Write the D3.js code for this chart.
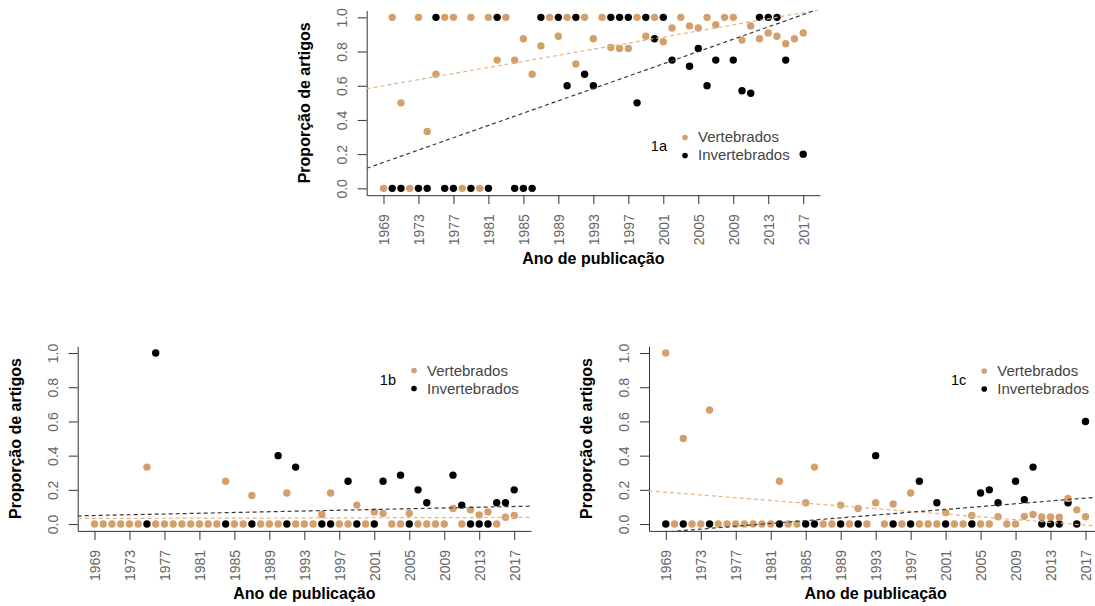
<!DOCTYPE html>
<html>
<head>
<meta charset="utf-8">
<script src="https://cdn.jsdelivr.net/npm/d3@7"></script>
<style>
  body { margin: 0; background: #fff; }
  svg text { font-family: "Liberation Sans", Arial, Helvetica, sans-serif; }
</style>
</head>
<body>
<svg id="fig" width="1095" height="606"></svg>
<script>
// Publication years (one value per year for each series)
const years = [1969,1970,1971,1972,1973,1974,1975,1976,1977,1978,
               1979,1980,1981,1982,1983,1984,1985,1986,1987,1988,
               1989,1990,1991,1992,1993,1994,1995,1996,1997,1998,
               1999,2000,2001,2002,2003,2004,2005,2006,2007,2008,
               2009,2010,2011,2012,2013,2014,2015,2016,2017];
const xTickYears = [1969,1973,1977,1981,1985,1989,1993,1997,2001,2005,2009,2013,2017];
const yTickValues = [0, 0.2, 0.4, 0.6, 0.8, 1.0];
const seriesNames = ["Vertebrados", "Invertebrados"];

// Panel 1a – proportion of articles per year (null = no point shown)
const vert1a = [0,1,0.5,0,1,0.333,0.667,1,1,0,
                1,0,1,0.75,1,0.75,0.875,0.667,0.833,1,
                0.889,1,0.727,1,0.875,1,0.824,0.818,0.818,1,
                0.889,1,0.857,0.938,1,0.95,0.938,1,0.957,1,
                1,0.867,0.95,0.875,0.909,0.889,0.846,0.875,0.909];
const invert1a = [null,0,0,null,0,0,1,0,0,null,
                  0,null,0,1,null,0,0,0,1,null,
                  1,0.6,1,0.667,0.6,null,1,1,1,0.5,
                  1,0.875,1,0.75,null,0.714,0.818,0.6,0.75,null,
                  0.75,0.571,0.556,1,1,1,0.75,null,0.2];

// Panel 1b
const vert1b = [0,0,0,0,0,0,0.333,0,0,0,
                0,0,0,0,0,0.25,0,0,0.167,0,
                0,0,0.182,0,0,0,0.056,0.182,0,0,
                0.111,0,0.071,0.0625,0,0,0.0625,0,0,0,
                0,0.091,0,0.083,0.053,0.071,0,0.04,0.05];
const invert1b = [null,null,null,null,null,null,0,1,null,null,
                  null,null,null,null,null,0,null,null,0,null,
                  null,0.4,0,0.333,null,null,0,0,null,0.25,
                  0,null,0,0.25,null,0.286,0,0.2,0.125,null,
                  null,0.286,0.111,0,0,0,0.125,0.125,0.2];

// Panel 1c
const vert1c = [1,0,0.5,0,0,0.667,0,0,0,0,
                0,0,0,0.25,0,0,0.125,0.333,0,0,
                0.111,0,0.091,0,0.125,0,0.118,0,0.182,0,
                0,0,0.067,0,0,0.05,0,0,0.043,0,
                0,0.045,0.056,0.042,0.042,0.04,0.15,0.083,0.043];
const invert1c = [0,null,0,null,null,0,null,null,null,null,
                  null,null,null,0,null,null,0,0,null,null,
                  0,null,0,null,0.4,null,0,null,0,0.25,
                  null,0.125,0,null,null,0,0.182,0.2,0.125,null,
                  0.25,0.143,0.333,0,0,0,0.125,0,0.6];

// Linear trends: [value at 1969, change per year]
const trendVert1a = [0.600, 0.0089];
const trendInvert1a = [0.152, 0.0180];
const trendVert1b = [0.033, 0.00012];
const trendInvert1b = [0.050, 0.0011];
const trendVert1c = [0.186, -0.0040];
const trendInvert1c = [-0.046, 0.00412];

const colors = { vert: "#D39F6B", invert: "#000000", vertLine: "#E6B386", invertLine: "#3a3a3a" };

const W = 453.3, H = 184.7;
const xDomain = [1967.08, 2018.92];
const yDomain = [-0.04, 1.04];

const panels = [
  { tag: "1a", left: 366.7, top: 10.5, vert: vert1a, invert: invert1a,
    trendV: trendVert1a, trendI: trendInvert1a, legendAt: [2003.48, 0.245] },
  { tag: "1b", left: 77.7, top: 346.2, vert: vert1b, invert: invert1b,
    trendV: trendVert1b, trendI: trendInvert1b, legendAt: [2005.54, 0.845] },
  { tag: "1c", left: 649, top: 346.2, vert: vert1c, invert: invert1c,
    trendV: trendVert1c, trendI: trendInvert1c, legendAt: [2005.42, 0.842] }
];

const svg = d3.select("#fig");

panels.forEach((p) => {
  const x = d3.scaleLinear().domain(xDomain).range([0, W]);
  const y = d3.scaleLinear().domain(yDomain).range([H, 0]);
  const g = svg.append("g").attr("transform", `translate(${p.left},${p.top})`);

  const clipId = "clip-" + p.tag;
  g.append("clipPath").attr("id", clipId)
    .append("rect").attr("x", 0).attr("y", 0).attr("width", W).attr("height", H);

  // x axis (bottom side of the box)
  const xAxis = g.append("g").attr("transform", `translate(0,${H})`)
    .call(d3.axisBottom(x).tickValues(xTickYears).tickFormat(d3.format("d"))
      .tickSize(9).tickSizeOuter(0));
  xAxis.selectAll("text")
    .attr("x", -19).attr("y", 5).attr("dy", null)
    .attr("transform", "rotate(-90)")
    .attr("text-anchor", "end");

  // y axis (left side of the box)
  const yAxis = g.append("g")
    .call(d3.axisLeft(y).tickValues(yTickValues).tickFormat(d3.format(".1f"))
      .tickSize(9).tickSizeOuter(0));
  yAxis.selectAll("text")
    .attr("x", 0).attr("y", 0).attr("dy", null)
    .attr("transform", "translate(-20,0) rotate(-90)")
    .attr("text-anchor", "middle");

  [xAxis, yAxis].forEach(a => {
    a.select(".domain").attr("stroke", "#333").attr("stroke-width", 1);
    a.selectAll(".tick line").attr("stroke", "#333");
    a.selectAll(".tick text").attr("fill", "#666").attr("font-size", 14);
  });

  // axis titles
  g.append("text")
    .attr("transform", `translate(-57,${H / 2}) rotate(-90)`)
    .attr("text-anchor", "middle")
    .attr("font-weight", "bold").attr("font-size", 16).attr("fill", "#000")
    .text("Proporção de artigos");
  g.append("text")
    .attr("x", W / 2).attr("y", H + 68.3)
    .attr("text-anchor", "middle")
    .attr("font-weight", "bold").attr("font-size", 16).attr("fill", "#000")
    .text("Ano de publicação");

  // points: invertebrates first, vertebrates on top
  const plotArea = g.append("g").attr("clip-path", `url(#${clipId})`);
  const toPts = arr => years.map((yr, k) => ({ yr, v: arr[k] })).filter(d => d.v !== null);

  plotArea.selectAll("circle.inv").data(toPts(p.invert)).join("circle")
    .attr("class", "inv")
    .attr("cx", d => x(d.yr)).attr("cy", d => y(d.v)).attr("r", 3.7)
    .attr("fill", colors.invert);
  plotArea.selectAll("circle.vert").data(toPts(p.vert)).join("circle")
    .attr("class", "vert")
    .attr("cx", d => x(d.yr)).attr("cy", d => y(d.v)).attr("r", 3.7)
    .attr("fill", colors.vert);

  // trend lines across the whole plot region
  const line = d3.line().x(d => x(d[0])).y(d => y(d[1]));
  const trendPts = t => xDomain.map(yr => [yr, t[0] + t[1] * (yr - 1969)]);
  plotArea.append("path").datum(trendPts(p.trendV))
    .attr("d", line).attr("fill", "none")
    .attr("stroke", colors.vertLine).attr("stroke-width", 1.2)
    .attr("stroke-dasharray", "4,3");
  plotArea.append("path").datum(trendPts(p.trendI))
    .attr("d", line).attr("fill", "none")
    .attr("stroke", colors.invertLine).attr("stroke-width", 1.2)
    .attr("stroke-dasharray", "4,3");

  // legend
  const lx = x(p.legendAt[0]), ly = y(p.legendAt[1]);
  const leg = g.append("g").attr("transform", `translate(${lx},${ly})`);
  leg.append("text").attr("x", -18).attr("y", 5)
    .attr("text-anchor", "end").attr("font-size", 14.5).attr("fill", "#000")
    .text(p.tag);
  const legColors = [colors.vert, colors.invert];
  seriesNames.forEach((name, k) => {
    const yy = (k === 0 ? -9 : 9);
    leg.append("circle").attr("cx", 0).attr("cy", yy).attr("r", 2.8).attr("fill", legColors[k]);
    leg.append("text").attr("x", 13).attr("y", yy + 5)
      .attr("font-size", 15).attr("fill", "#444").text(name);
  });
});
</script>
</body>
</html>
